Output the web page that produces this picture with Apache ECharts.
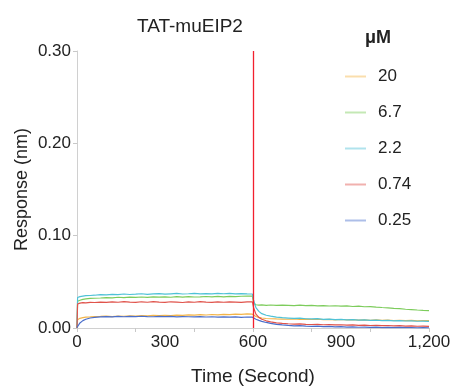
<!DOCTYPE html>
<html>
<head>
<meta charset="utf-8">
<script src="https://cdn.jsdelivr.net/npm/echarts@6/dist/echarts.min.js"></script>
<style>html,body{margin:0;padding:0;background:#fff}#c{width:455px;height:391px}</style>
</head>
<body>
<div id="c"></div>
<script>
var titleText = 'TAT-muEIP2';
var unitText = 'μM';
var xName = 'Time (Second)';
var yName = 'Response (nm)';
var seriesNames = ['20', '6.7', '2.2', '0.74', '0.25'];
var seriesColors = ['#f3b54a', '#7dcc5c', '#4fc2d6', '#e0534b', '#4a6ecb'];

var times = [0, 2, 10, 20, 30, 45, 60,
  80, 100, 120, 140, 160, 180, 200, 220, 240, 260, 280, 300, 320, 340, 360, 380, 400, 420, 440, 460, 480, 500, 520, 540, 560, 580,
  598,
  602, 610, 620, 630, 645, 660, 680, 700,
  720, 740, 760, 780, 800, 820, 840, 860, 880, 900, 920, 940, 960, 980, 1000, 1020, 1040, 1060, 1080, 1100, 1120, 1140, 1160, 1180, 1200];

var s20 = [0, 0.0090, 0.0105, 0.0112, 0.0118, 0.0120, 0.0123,
  0.0125, 0.0128, 0.0124, 0.0130, 0.0127, 0.0132, 0.0129, 0.0134, 0.0131, 0.0136, 0.0133, 0.0138, 0.0135, 0.0140, 0.0137, 0.0142, 0.0139, 0.0144, 0.0141, 0.0146, 0.0143, 0.0148, 0.0145, 0.0150, 0.0147, 0.0152,
  0.0150,
  0.0140, 0.0125, 0.0115, 0.0108, 0.0103, 0.0100, 0.0098, 0.0097,
  0.0095, 0.0098, 0.0093, 0.0096, 0.0092, 0.0095, 0.0090, 0.0093, 0.0089, 0.0092, 0.0087, 0.0090, 0.0086, 0.0089, 0.0084, 0.0087, 0.0083, 0.0086, 0.0081, 0.0084, 0.0080, 0.0083, 0.0078, 0.0081, 0.0079];

var s67 = [0, 0.0290, 0.0300, 0.0310, 0.0315, 0.0320, 0.0322,
  0.0325, 0.0330, 0.0327, 0.0333, 0.0329, 0.0335, 0.0331, 0.0336, 0.0332, 0.0338, 0.0334, 0.0337, 0.0333, 0.0339, 0.0335, 0.0340, 0.0336, 0.0338, 0.0341, 0.0337, 0.0342, 0.0338, 0.0343, 0.0339, 0.0344, 0.0346,
  0.0345,
  0.0270, 0.0252, 0.0248, 0.0250, 0.0246, 0.0249, 0.0244, 0.0247,
  0.0246, 0.0243, 0.0247, 0.0242, 0.0245, 0.0240, 0.0243, 0.0238, 0.0241, 0.0236, 0.0239, 0.0233, 0.0236, 0.0230, 0.0232, 0.0226, 0.0222, 0.0219, 0.0212, 0.0209, 0.0203, 0.0200, 0.0195, 0.0191, 0.0188];

var s22 = [0, 0.0330, 0.0340, 0.0345, 0.0350, 0.0352, 0.0355,
  0.0362, 0.0358, 0.0365, 0.0361, 0.0368, 0.0363, 0.0366, 0.0371, 0.0364, 0.0369, 0.0372, 0.0366, 0.0370, 0.0374, 0.0368, 0.0371, 0.0375, 0.0369, 0.0373, 0.0370, 0.0376, 0.0371, 0.0374, 0.0369, 0.0373, 0.0370,
  0.0368,
  0.0300, 0.0220, 0.0180, 0.0155, 0.0138, 0.0128, 0.0118, 0.0112,
  0.0108, 0.0104, 0.0106, 0.0100, 0.0098, 0.0101, 0.0094, 0.0096, 0.0091, 0.0093, 0.0088, 0.0090, 0.0085, 0.0087, 0.0083, 0.0085, 0.0080, 0.0082, 0.0078, 0.0080, 0.0076, 0.0078, 0.0073, 0.0075, 0.0071];

var s074 = [0, 0.0260, 0.0270, 0.0275, 0.0272, 0.0278, 0.0276,
  0.0281, 0.0277, 0.0283, 0.0279, 0.0285, 0.0280, 0.0277, 0.0284, 0.0279, 0.0286, 0.0281, 0.0278, 0.0284, 0.0280, 0.0276, 0.0283, 0.0279, 0.0285, 0.0280, 0.0277, 0.0283, 0.0279, 0.0284, 0.0281, 0.0278, 0.0283,
  0.0282,
  0.0220, 0.0150, 0.0115, 0.0095, 0.0078, 0.0066, 0.0056, 0.0050,
  0.0046, 0.0043, 0.0045, 0.0040, 0.0038, 0.0040, 0.0035, 0.0037, 0.0033, 0.0035, 0.0031, 0.0033, 0.0029, 0.0031, 0.0027, 0.0029, 0.0025, 0.0027, 0.0023, 0.0025, 0.0021, 0.0023, 0.0019, 0.0021, 0.0018];

var s025 = [0.0005, 0.0020, 0.0055, 0.0080, 0.0095, 0.0108, 0.0115,
  0.0120, 0.0123, 0.0121, 0.0125, 0.0122, 0.0126, 0.0123, 0.0127, 0.0124, 0.0122, 0.0126, 0.0123, 0.0125, 0.0121, 0.0124, 0.0122, 0.0120, 0.0123, 0.0119, 0.0122, 0.0118, 0.0121, 0.0117, 0.0120, 0.0116, 0.0119,
  0.0117,
  0.0108, 0.0095, 0.0082, 0.0072, 0.0060, 0.0050, 0.0040, 0.0033,
  0.0028, 0.0024, 0.0026, 0.0020, 0.0018, 0.0020, 0.0015, 0.0017, 0.0012, 0.0014, 0.0010, 0.0012, 0.0008, 0.0010, 0.0007, 0.0009, 0.0005, 0.0007, 0.0004, 0.0006, 0.0003, 0.0005, 0.0002, 0.0004, 0.0002];

var injectionEnd = 600;

var allValues = [s20, s67, s22, s074, s025];
function pairs(vals) { return times.map(function (t, i) { return [t, vals[i]]; }); }

var FONT = 'Liberation Sans, Arial, sans-serif';
var chart = echarts.init(document.getElementById('c'));
var series = seriesNames.map(function (n, i) {
  var s = {
    name: n, type: 'line', xAxisIndex: 0, yAxisIndex: 0,
    data: pairs(allValues[i]), symbol: 'none', showSymbol: false,
    lineStyle: { width: 1.2, color: seriesColors[i] }, itemStyle: { color: seriesColors[i] },
    z: 2 + i
  };
  if (i === 0) {
    s.markLine = {
      silent: true, symbol: ['none', 'none'], label: { show: false },
      lineStyle: { color: '#f2202e', type: 'solid', width: 1.3 },
      data: [{ xAxis: injectionEnd }], z: 10
    };
  }
  return s;
});

chart.setOption({
  animation: false,
  backgroundColor: '#fff',
  title: [{
    text: titleText, left: 132, top: 12,
    textStyle: { fontFamily: FONT, fontSize: 19, fontWeight: 'normal', color: '#222' }
  }, {
    text: unitText, left: 360, top: 24,
    textStyle: { fontFamily: FONT, fontSize: 18, fontWeight: 'bold', color: '#222' }
  }],
  legend: {
    orient: 'vertical', left: 340, top: 63, itemWidth: 21, itemHeight: 2, itemGap: 19,
    icon: 'rect',
    data: seriesNames,
    itemStyle: { opacity: 0.45 },
    textStyle: { fontFamily: FONT, fontSize: 17, color: '#222', padding: [0, 0, 0, 7] }
  },
  grid: { left: 77, right: 26, top: 51, bottom: 62 },
  xAxis: [{
    type: 'value', min: 0, max: 1200, interval: 300,
    name: xName, nameLocation: 'middle', nameGap: 39, nameMoveOverlap: false,
    nameTextStyle: { fontFamily: FONT, fontSize: 19, color: '#222' },
    axisLine: { show: true, lineStyle: { color: '#d0d0d0' } },
    axisTick: { show: false },
    axisLabel: { fontFamily: FONT, fontSize: 17, color: '#222', margin: 6 },
    splitLine: { show: false }
  }, {
    type: 'value', min: 0, max: 1200, interval: 200, position: 'bottom',
    axisLine: { show: false },
    axisTick: { show: true, length: 4, lineStyle: { color: '#c8c8c8' } },
    axisLabel: { show: false },
    splitLine: { show: false }
  }],
  yAxis: {
    type: 'value', min: 0, max: 0.3, interval: 0.1,
    name: yName, nameLocation: 'middle', nameGap: 46, nameMoveOverlap: false,
    nameTextStyle: { fontFamily: FONT, fontSize: 18, color: '#222' },
    axisLine: { show: true, lineStyle: { color: '#d0d0d0' } },
    axisTick: { show: true, length: 4, lineStyle: { color: '#c8c8c8' } },
    axisLabel: { fontFamily: FONT, fontSize: 17, color: '#222', margin: 6,
      formatter: function (v) { return v.toFixed(2); } },
    splitLine: { show: false }
  },
  series: series
});
</script>
</body>
</html>
